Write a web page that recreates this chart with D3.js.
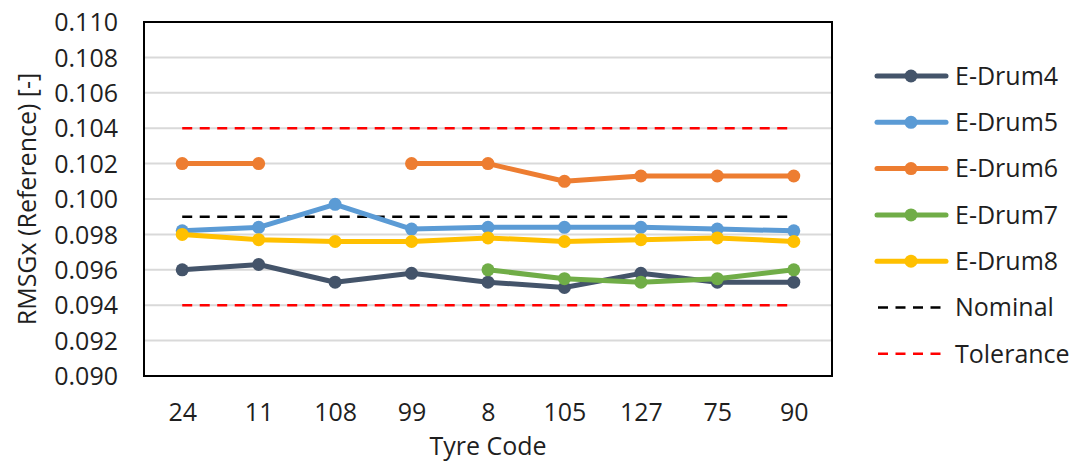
<!DOCTYPE html>
<html>
<head>
<meta charset="utf-8">
<script src="https://cdn.jsdelivr.net/npm/d3@7"></script>
<style>
  html, body { margin: 0; padding: 0; background: #fff; }
  svg { display: block; }
  text { font-family: "Open Sans", "Noto Sans", sans-serif; fill: #1f1f1f; }
</style>
</head>
<body>
<svg id="chart" width="1071" height="462"></svg>
<script>
// ---- data ----
const categories = ["24", "11", "108", "99", "8", "105", "127", "75", "90"];
const seriesNames = ["E-Drum4", "E-Drum5", "E-Drum6", "E-Drum7", "E-Drum8"];
const drum4 = [0.0960, 0.0963, 0.0953, 0.0958, 0.0953, 0.0950, 0.0958, 0.0953, 0.0953];
const drum5 = [0.0982, 0.0984, 0.0997, 0.0983, 0.0984, 0.0984, 0.0984, 0.0983, 0.0982];
const drum6 = [0.1020, 0.1020, null, 0.1020, 0.1020, 0.1010, 0.1013, 0.1013, 0.1013];
const drum7 = [null, null, null, null, 0.0960, 0.0955, 0.0953, 0.0955, 0.0960];
const drum8 = [0.0980, 0.0977, 0.0976, 0.0976, 0.0978, 0.0976, 0.0977, 0.0978, 0.0976];
const nominal = 0.099;
const tolerance = [0.094, 0.104];
const yTicks = [0.090, 0.092, 0.094, 0.096, 0.098, 0.100, 0.102, 0.104, 0.106, 0.108, 0.110];
const yTitle = "RMSGx (Reference) [-]";
const xTitle = "Tyre Code";

// ---- styles ----
const colors = ["#44546A", "#5B9BD5", "#ED7D31", "#70AD47", "#FFC000"];
const seriesValues = [drum4, drum5, drum6, drum7, drum8];
const FS = 25;

const svg = d3.select("#chart");
const plot = { left: 144, right: 832, top: 22, bottom: 376 };

const x = d3.scalePoint().domain(categories).range([plot.left, plot.right]).padding(0.5);
const y = d3.scaleLinear().domain([0.090, 0.110]).range([plot.bottom, plot.top]);

// gridlines
svg.append("g").selectAll("line")
  .data(yTicks.filter(t => t > 0.0905 && t < 0.1095))
  .join("line")
  .attr("x1", plot.left).attr("x2", plot.right)
  .attr("y1", d => y(d)).attr("y2", d => y(d))
  .attr("stroke", "#d9d9d9").attr("stroke-width", 2);

// y axis labels
const yAxis = d3.axisLeft(y).tickValues(yTicks).tickFormat(d3.format(".3f")).tickSize(0).tickPadding(0);
const gy = svg.append("g").attr("transform", `translate(118,0)`).call(yAxis);
gy.select(".domain").remove();
gy.selectAll("text").attr("font-size", FS).attr("font-family", null).attr("fill", "#1f1f1f").attr("dy", "0.35em");

// x axis labels
const xAxis = d3.axisBottom(x).tickSize(0).tickPadding(0);
const gx = svg.append("g").call(xAxis);
gx.select(".domain").remove();
gx.selectAll("text").attr("font-size", FS).attr("font-family", null).attr("fill", "#1f1f1f")
  .attr("y", 421).attr("dy", null);

// reference lines
const first = x(categories[0]), last = x(categories[categories.length - 1]);
const refs = [{ v: nominal, c: "#000" }, { v: tolerance[0], c: "#ff0000" }, { v: tolerance[1], c: "#ff0000" }];
svg.append("g").selectAll("line").data(refs).join("line")
  .attr("x1", first).attr("x2", last)
  .attr("y1", d => y(d.v)).attr("y2", d => y(d.v))
  .attr("stroke", d => d.c).attr("stroke-width", 2.5).attr("stroke-dasharray", "10,7.5");

// series
const line = d3.line().defined(d => d.v != null).x(d => x(d.c)).y(d => y(d.v));
seriesValues.forEach((vals, i) => {
  const pts = categories.map((c, j) => ({ c, v: vals[j] }));
  const g = svg.append("g");
  g.append("path").datum(pts).attr("d", line).attr("fill", "none")
    .attr("stroke", colors[i]).attr("stroke-width", 5).attr("stroke-linejoin", "round").attr("stroke-linecap", "round");
  g.selectAll("circle").data(pts.filter(p => p.v != null)).join("circle")
    .attr("cx", d => x(d.c)).attr("cy", d => y(d.v)).attr("r", 6.5).attr("fill", colors[i]);
});

// frame
svg.append("rect").attr("x", plot.left).attr("y", plot.top)
  .attr("width", plot.right - plot.left).attr("height", plot.bottom - plot.top)
  .attr("fill", "none").attr("stroke", "#000").attr("stroke-width", 2);

// axis titles
svg.append("text").attr("x", (plot.left + plot.right) / 2).attr("y", 455)
  .attr("text-anchor", "middle").attr("font-size", FS).text(xTitle);
svg.append("text").attr("transform", `translate(36,${(plot.top + plot.bottom) / 2}) rotate(-90)`)
  .attr("text-anchor", "middle").attr("font-size", FS).text(yTitle);

// legend
const legendItems = seriesNames.map((n, i) => ({ name: n, color: colors[i], type: "series" }))
  .concat([{ name: "Nominal", color: "#000", type: "dash" }, { name: "Tolerance", color: "#ff0000", type: "dash" }]);
const lg = svg.append("g");
legendItems.forEach((it, i) => {
  const ly = 76 + i * 46.3;
  if (it.type === "series") {
    lg.append("line").attr("x1", 877).attr("x2", 946).attr("y1", ly).attr("y2", ly)
      .attr("stroke", it.color).attr("stroke-width", 5).attr("stroke-linecap", "round");
    lg.append("circle").attr("cx", 911).attr("cy", ly).attr("r", 6.5).attr("fill", it.color);
  } else {
    lg.append("line").attr("x1", 878).attr("x2", 941).attr("y1", ly).attr("y2", ly)
      .attr("stroke", it.color).attr("stroke-width", 2.5).attr("stroke-dasharray", "10,7.5");
  }
  lg.append("text").attr("x", 955).attr("y", ly).attr("dy", "0.35em").attr("font-size", FS).text(it.name);
});
</script>
</body>
</html>
